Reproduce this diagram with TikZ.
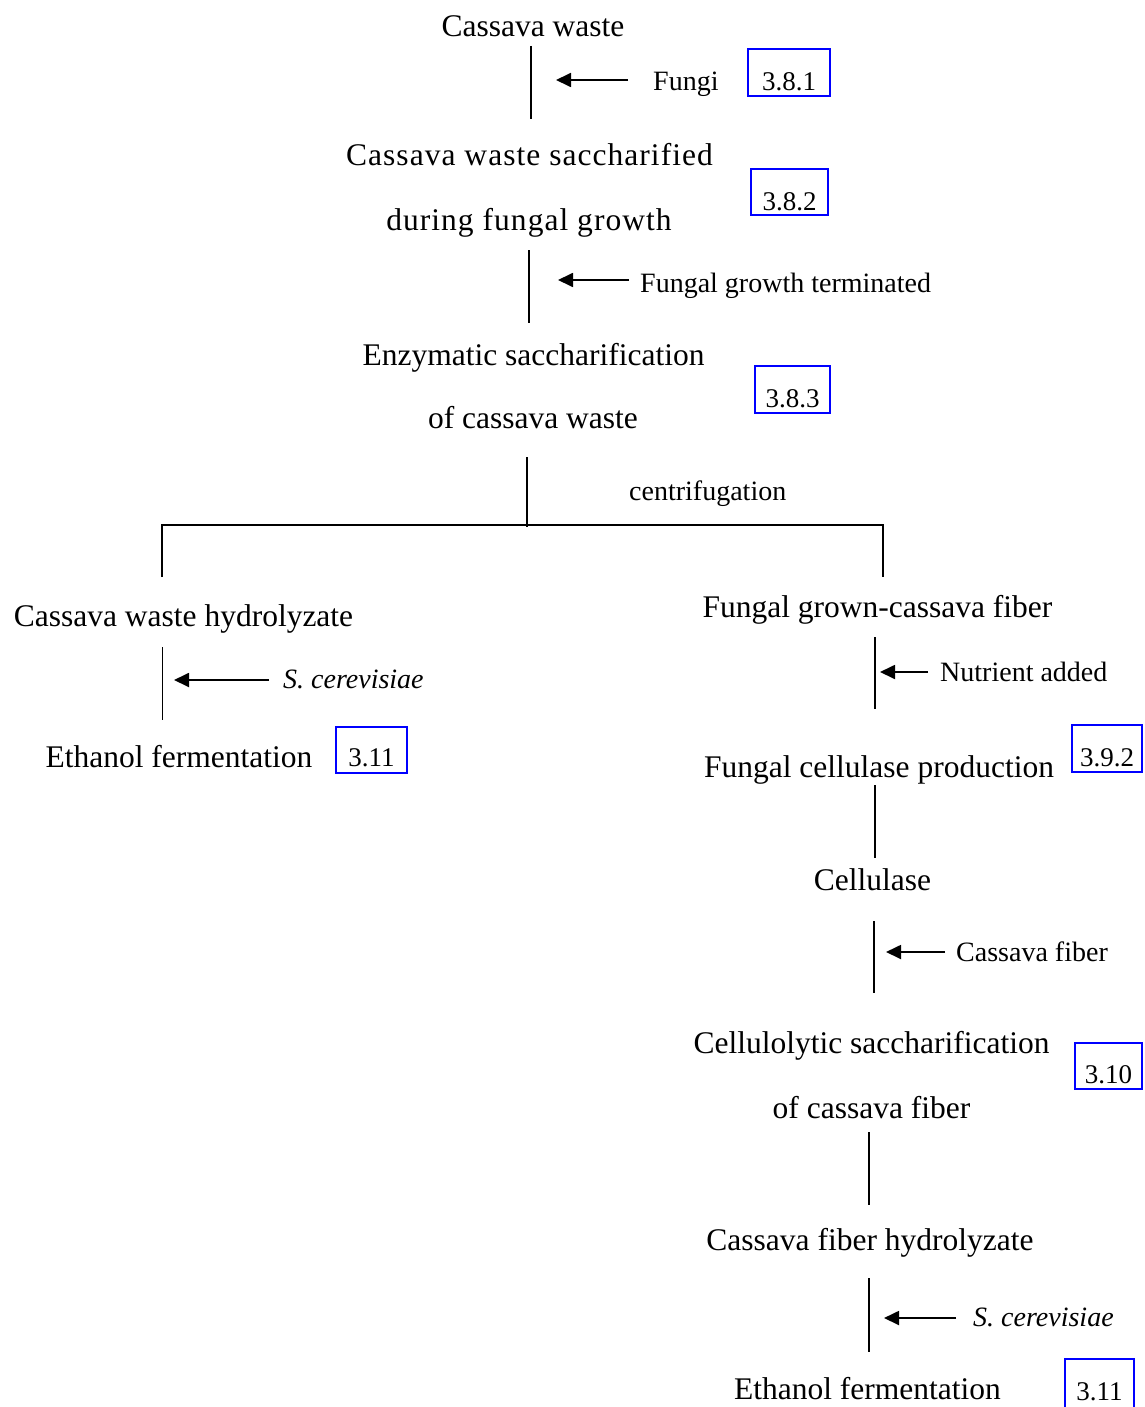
\documentclass[tikz,border=0pt]{standalone}
\usepackage{fontspec}
\setmainfont{Liberation Serif}
\newfontfamily\spcfont[LetterSpace=3.3]{Liberation Serif}
\usetikzlibrary{arrows.meta}
\begin{document}
\begin{tikzpicture}[x=1pt,y=-1pt,
  maintext/.style={anchor=base,inner sep=0pt,font=\fontsize{31.5}{34}\selectfont},
  sptext/.style={anchor=base,inner sep=0pt,font=\spcfont\fontsize{31.5}{34}\selectfont},
  lbl/.style={anchor=base west,inner sep=0pt,font=\fontsize{28}{31}\selectfont},
  secbox/.style={draw=blue,line width=2pt,inner sep=0pt,anchor=base,font=\fontsize{27}{30}\selectfont},
  conn/.style={line width=1.8pt},
  arr/.style={line width=1.8pt,-{Triangle[length=15pt,width=14pt]}}]
\useasboundingbox (0,0) rectangle (1144,1407);
\fill[white] (0,0) rectangle (1144,1407);

% upper chain
\node[maintext] (cw) at (533,37) {Cassava waste};
\node[sptext] (cws1) at (529.5,166) {Cassava waste saccharified};
\node[sptext] (cws2) at (529,230) {during fungal growth};
\node[maintext] (enz1) at (533.5,365) {Enzymatic saccharification};
\node[maintext] (enz2) at (533,428) {of cassava waste};

\node[lbl] (fungi) at (653,91) {Fungi};
\node[lbl] (fgt) at (640,292) {Fungal growth terminated};
\node[lbl] (centr) at (629,500) {centrifugation};

\node[secbox,minimum width=82pt,text height=42pt,text depth=5pt] (b381) at (789,91) {3.8.1};
\node[secbox,minimum width=77pt,text height=41pt,text depth=5pt] (b382) at (789.5,210) {3.8.2};
\node[secbox,minimum width=75pt,text height=41pt,text depth=6pt] (b383) at (792.5,407) {3.8.3};

\coordinate (l1a) at (531,46);  \coordinate (l1b) at (531,119);
\coordinate (a1) at (556,80);
\coordinate (l2a) at (529,250); \coordinate (l2b) at (529,323);
\coordinate (a2) at (558,280);
\draw[conn] (l1a) -- (l1b);
\draw[arr] (fungi.west |- a1) ++(-25,0) -- (a1);
\draw[conn] (l2a) -- (l2b);
\draw[arr] (fgt.west |- a2) ++(-11,0) -- (a2);

% split
\coordinate (sa) at (527,457);
\coordinate (sb) at (527,527);
\coordinate (hl) at (162,525);
\coordinate (hr) at (883,525);
\coordinate (dl) at (162,577);
\coordinate (dr) at (883,577);
\draw[conn] (sa) -- (sb);
\draw[conn] (dl) -- (hl) -- (hr) -- (dr);

% left branch
\node[maintext] (cwh) at (183.5,626) {Cassava waste hydrolyzate};
\node[lbl,font=\itshape\fontsize{28}{31}\selectfont] (sc1) at (283,688) {S. cerevisiae};
\node[maintext] (ef1) at (179,767) {Ethanol fermentation};
\node[secbox,minimum width=71pt,text height=39pt,text depth=7pt] (b311a) at (371.5,766) {3.11};
\coordinate (l3a) at (162.5,647); \coordinate (l3b) at (162.5,720);
\coordinate (a3) at (174,680);
\draw[conn] (l3a) -- (l3b);
\draw[arr] (sc1.west |- a3) ++(-14,0) -- (a3);

% right branch
\node[maintext] (fgc) at (877.5,617) {Fungal grown-cassava fiber};
\node[lbl] (nut) at (940,681) {Nutrient added};
\node[maintext] (fcp) at (879,777) {Fungal cellulase production};
\node[secbox,minimum width=70pt,text height=41pt,text depth=6pt] (b392) at (1107,766) {3.9.2};
\coordinate (l4a) at (875,637); \coordinate (l4b) at (875,709);
\coordinate (a4) at (880,672);
\draw[conn] (l4a) -- (l4b);
\draw[arr] (nut.west |- a4) ++(-12,0) -- (a4);

\node[maintext] (cel) at (872.5,890) {Cellulase};
\coordinate (l5a) at (875,785); \coordinate (l5b) at (875,858);
\draw[conn] (l5a) -- (l5b);

\node[lbl] (cf) at (956,961) {Cassava fiber};
\coordinate (l6a) at (874,921); \coordinate (l6b) at (874,993);
\coordinate (a6) at (886,952);
\draw[conn] (l6a) -- (l6b);
\draw[arr] (cf.west |- a6) ++(-11,0) -- (a6);

\node[maintext] (cs1) at (871.5,1053) {Cellulolytic saccharification};
\node[maintext] (cs2) at (871.5,1118) {of cassava fiber};
\node[secbox,minimum width=67pt,text height=40pt,text depth=6pt] (b310) at (1108.5,1083) {3.10};
\coordinate (l7a) at (869,1132); \coordinate (l7b) at (869,1205);
\draw[conn] (l7a) -- (l7b);

\node[maintext] (cfh) at (870,1250) {Cassava fiber hydrolyzate};
\node[lbl,font=\itshape\fontsize{28}{31}\selectfont] (sc2) at (973,1326) {S. cerevisiae};
\coordinate (l8a) at (869,1278); \coordinate (l8b) at (869,1352);
\coordinate (a8) at (884,1318);
\draw[conn] (l8a) -- (l8b);
\draw[arr] (sc2.west |- a8) ++(-17,0) -- (a8);

\node[maintext] (ef2) at (867.5,1399) {Ethanol fermentation};
\node[secbox,minimum width=69pt,text height=41pt,text depth=12pt] (b311b) at (1099.5,1400) {3.11};
\end{tikzpicture}
\end{document}
